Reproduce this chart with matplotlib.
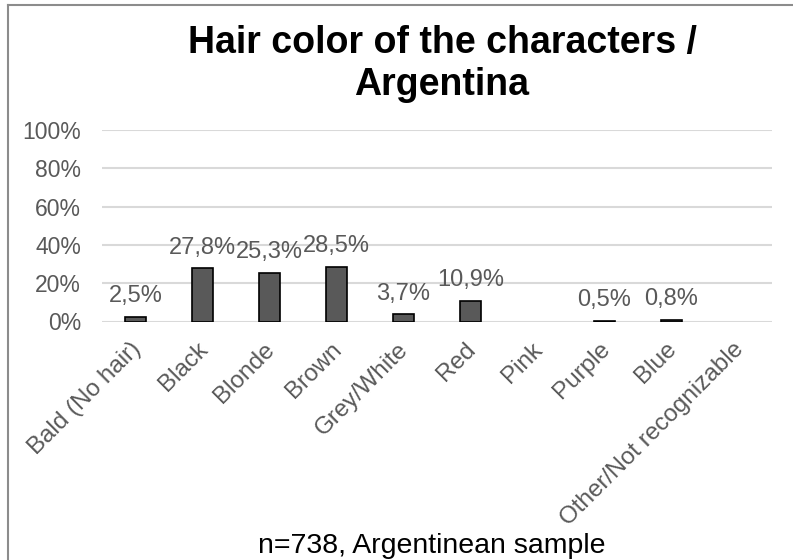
import matplotlib
matplotlib.use('Agg')
import matplotlib.pyplot as plt
from matplotlib.lines import Line2D
from matplotlib.transforms import ScaledTranslation

categories = ['Bald (No hair)', 'Black', 'Blonde', 'Brown', 'Grey/White', 'Red',
              'Pink', 'Purple', 'Blue', 'Other/Not recognizable']
shares = [2.5, 27.8, 25.3, 28.5, 3.7, 10.9, 0.0, 0.5, 0.8, 0.0]
yticks = [0, 20, 40, 60, 80, 100]

plt.rcParams['font.family'] = ['Liberation Sans', 'DejaVu Sans']

gray_text = '#595959'

fig = plt.figure(figsize=(7.93, 5.6), dpi=100)
ax = fig.add_axes([102 / 793, 1 - 321.5 / 560, 670 / 793, 191.5 / 560])

x = list(range(len(categories)))
edge_w = [1.2 if v > 0 else 0 for v in shares]
ax.bar(x, shares, width=0.32, color='#595959', edgecolor='black', linewidth=edge_w, zorder=3)

for xi, v in zip(x, shares):
    if v > 0:
        ax.annotate(f'{v:.1f}%'.replace('.', ','), (xi, v), xytext=(0, 7),
                    textcoords='offset points', ha='center', va='bottom',
                    fontsize=17, color=gray_text)

ax.set_xlim(-0.5, len(categories) - 0.5)
ax.set_ylim(0, 100)
ax.set_yticks(yticks)
ax.set_yticklabels([f'{t}%' for t in yticks], fontsize=16.5, color=gray_text)
ax.set_xticks(x)
ax.set_xticklabels(categories, rotation=45, ha='right', rotation_mode='anchor',
                   fontsize=17.5, color=gray_text)
ax.tick_params(axis='both', length=0)
ax.tick_params(axis='x', pad=12)
ax.tick_params(axis='y', pad=15)
shift = ScaledTranslation(-6 / 100, 0, fig.dpi_scale_trans)
for lab in ax.get_xticklabels():
    lab.set_transform(lab.get_transform() + shift)
ax.grid(axis='y', color='#d9d9d9', linewidth=1.5, zorder=0)
for s in ax.spines.values():
    s.set_visible(False)

fig.text(442 / 793, 1 - 53 / 560, 'Hair color of the characters /', ha='center',
         va='baseline', fontsize=27, fontweight='bold')
fig.text(442 / 793, 1 - 95 / 560, 'Argentina', ha='center',
         va='baseline', fontsize=27, fontweight='bold')
fig.text(432 / 793, 1 - 553 / 560, 'n=738, Argentinean sample', ha='center',
         va='baseline', fontsize=20.5, color='black')

# chart frame, cut off at right and bottom
fig.add_artist(Line2D([8 / 793, 8 / 793], [0, 1 - 5 / 560], color='#8c8c8c', linewidth=1.5))
fig.add_artist(Line2D([8 / 793, 1], [1 - 5 / 560, 1 - 5 / 560], color='#8c8c8c', linewidth=1.5))

fig.savefig('out.png', dpi=100)
